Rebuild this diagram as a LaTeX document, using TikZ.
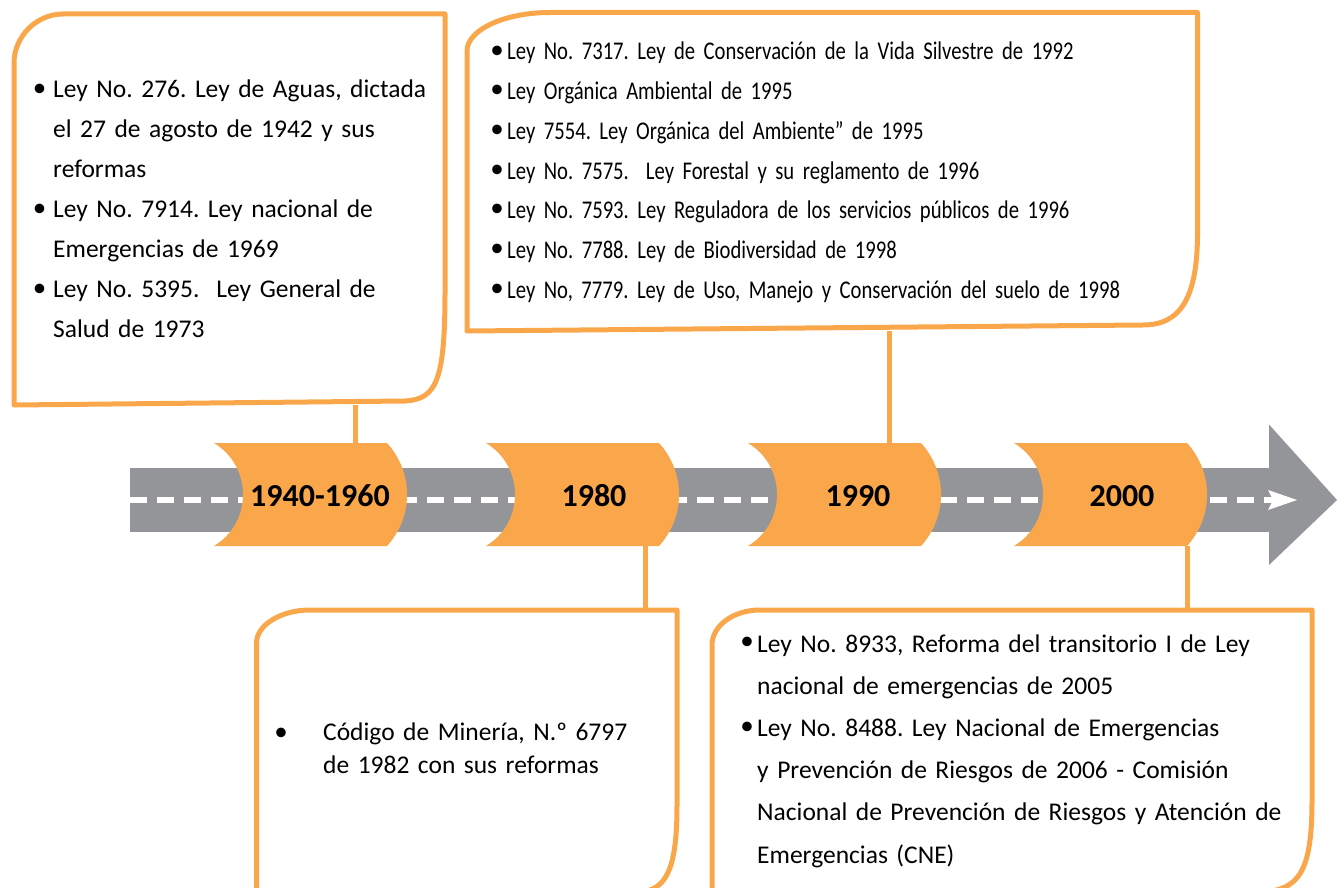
\documentclass[tikz,border=0pt]{standalone}
\usepackage{fontspec}
\setmainfont{Carlito}
\newfontfamily\narrowfont{Carlito}[FakeStretch=0.81]
\definecolor{lineorange}{HTML}{F9A74A}
\definecolor{yearorange}{HTML}{F9A74A}
\definecolor{roadgray}{HTML}{939598}
\frenchspacing
\begin{document}
\begin{tikzpicture}[x=1pt,y=-1pt,
  frame/.style={draw=lineorange, line width=5pt, line join=round},
  link/.style={draw=lineorange, line width=5pt},
  yeartext/.style={font=\fontsize{32}{38}\selectfont\bfseries, anchor=base, inner sep=0pt},
  bodytext/.style={anchor=base west, inner sep=0pt, text width=760pt, align=left},
  dot/.style={inner sep=0pt, anchor=center, font=\fontsize{27}{30}\selectfont}
]
\useasboundingbox (0,0) rectangle (1339,888);
\clip (0,0) rectangle (1339,888);

% road with its arrow head
\fill[roadgray] (130,468) rectangle (1270,532);
\fill[roadgray] (1269,424.5) -- (1337,500) -- (1269,565) -- cycle;
\draw[white, line width=6pt, dash pattern=on 17pt off 10pt] (130,500) -- (1281,500);
\fill[white] (1268,490) -- (1297,500) -- (1268,510) -- (1273,500) -- cycle;

% year markers on the road
\foreach \x/\cx/\lbl/\i in {214/320/1940-1960/1, 486/594/1980/2, 748/858/1990/3, 1014/1122/2000/4} {
  \fill[yearorange] (\x,443) -- (\x+173,443)
     .. controls (\x+199.7,472.2) and (\x+199.7,516.8) .. (\x+173,546)
     -- (\x,546)
     .. controls (\x+38.7,522.6) and (\x+38.7,466.4) .. (\x,443) -- cycle;
  \node[yeartext] (yr\i) at (\cx,506) {\lbl};
}

% attachment points
\coordinate (b1foot) at (355,405);   \coordinate (y1head) at (355,443);
\coordinate (b2foot) at (889.5,331); \coordinate (y3head) at (889.5,443);
\coordinate (y2foot) at (645,546);   \coordinate (b3head) at (645,610);
\coordinate (y4foot) at (1187,546);  \coordinate (b4head) at (1187,610);

% connectors
\draw[link] (b1foot) -- (y1head);
\draw[link] (b2foot) -- (y3head);
\draw[link] (y2foot) -- (b3head);
\draw[link] (y4foot) -- (b4head);

% callout frames
\draw[frame] (14,63) .. controls (14,36.5) and (36.5,14) .. (63,14) -- (445,14) -- (445,292)
   .. controls (445,382) and (436,399) .. (405,401) -- (14,405) -- cycle;
\draw[frame] (467,51) .. controls (467,30) and (504,12.5) .. (550,12.5) -- (1197.5,12.5) -- (1197.5,233)
   .. controls (1197.5,297) and (1181,325) .. (1143,325) -- (467,331) -- cycle;
\draw[frame] (256.5,643) .. controls (256.5,625) and (281,610) .. (310,610) -- (677,610) -- (677,805)
   .. controls (677,865) and (668,890) .. (640,892) -- (256.5,892) -- cycle;
\draw[frame] (712,645) .. controls (712,626) and (733,610) .. (760,610) -- (1312,610) -- (1312,800)
   .. controls (1312,870) and (1300,890) .. (1262,892) -- (712,892) -- cycle;

% 1940-1960
\node[dot] (d11) at (39.5,90) {•};
\node[dot] (d12) at (39.5,210) {•};
\node[dot] (d13) at (39.5,290) {•};
\node[bodytext, font=\fontsize{25.5}{40}\selectfont] (t1) at (53,98)
  {Ley No. 276. Ley de Aguas, dictada\\
   el 27 de agosto de 1942 y sus\\
   reformas\\
   Ley No. 7914. Ley nacional de\\
   Emergencias de 1969\\
   Ley No. 5395.\ \ Ley General de\\
   Salud de 1973};

% 1990
\foreach \k in {0,...,6} {
  \node[dot] (d2\k) at (497,52+39.7*\k) {•};
}
\node[bodytext, font=\narrowfont\fontsize{25.5}{39.7}\selectfont] (t2) at (507,60)
  {Ley No. 7317. Ley de Conservación de la Vida Silvestre de 1992\\
   Ley Orgánica Ambiental de 1995\\
   Ley 7554. Ley Orgánica del Ambiente” de 1995\\
   Ley No. 7575.\ \ Ley Forestal y su reglamento de 1996\\
   Ley No. 7593. Ley Reguladora de los servicios públicos de 1996\\
   Ley No. 7788. Ley de Biodiversidad de 1998\\
   Ley No, 7779. Ley de Uso, Manejo y Conservación del suelo de 1998};

% 1980
\node[dot] (d31) at (281,734) {•};
\node[bodytext, font=\fontsize{25.5}{33}\selectfont] (t3) at (323,740)
  {Código de Minería, N.º 6797\\
   de 1982 con sus reformas};

% 2000
\node[dot] (d41) at (747,643) {•};
\node[dot] (d42) at (747,728) {•};
\node[bodytext, font=\fontsize{25.5}{42.2}\selectfont] (t4) at (757,652)
  {Ley No. 8933, Reforma del transitorio I de Ley\\
   nacional de emergencias de 2005\\
   Ley No. 8488. Ley Nacional de Emergencias\\
   y Prevención de Riesgos de 2006 - Comisión\\
   Nacional de Prevención de Riesgos y Atención de\\
   Emergencias (CNE)};
\end{tikzpicture}
\end{document}
